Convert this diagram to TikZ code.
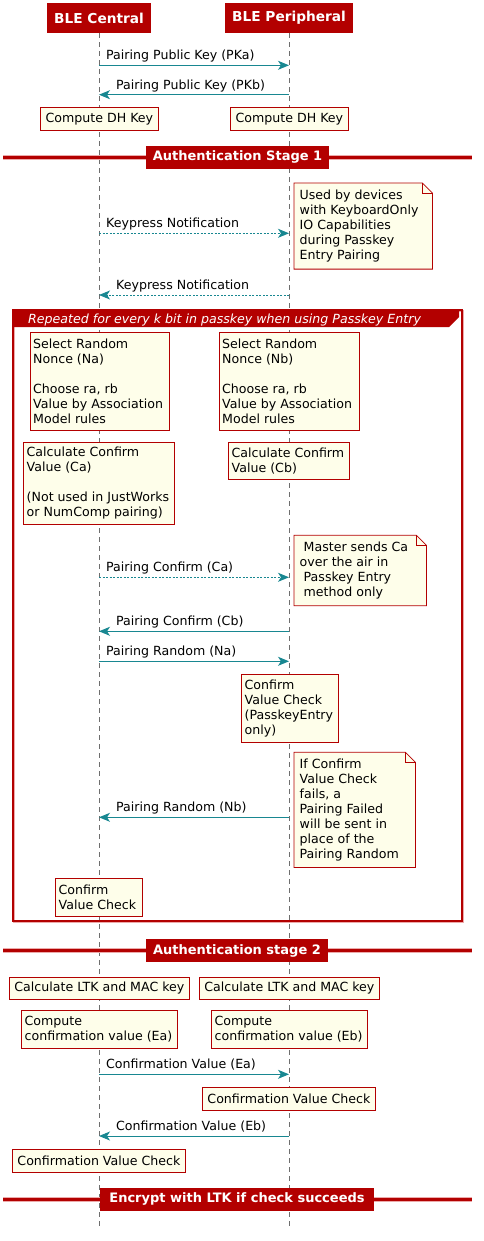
\documentclass[tikz,border=0pt]{standalone}
\usepackage{fontspec}
\setmainfont{DejaVu Sans}
\usetikzlibrary{arrows.meta}
\definecolor{pred}{RGB}{179,0,0}
\definecolor{ppink}{RGB}{236,170,170}
\definecolor{pivory}{RGB}{254,254,234}
\definecolor{pteal}{RGB}{24,135,145}
\definecolor{pgrayl}{RGB}{110,110,110}
\newcommand\txtsz{\fontsize{12.6}{15}\selectfont}
\begin{document}
\begin{tikzpicture}[x=1pt,y=-1pt,
  part/.style={fill=pred,text=white,font=\bfseries\fontsize{13.7}{16}\selectfont,inner sep=0pt,minimum height=30pt},
  lifeline/.style={draw=pgrayl,line width=0.6pt,dash pattern=on 5pt off 4pt},
  arr/.style={draw=pteal,line width=1pt,-{Stealth[length=11pt,width=9pt,inset=3pt]}},
  darr/.style={arr,dash pattern=on 2pt off 1.5pt},
  lbl/.style={font=\txtsz,anchor=base west,inner sep=0pt},
  boxr/.style={draw=pred,fill=pivory,line width=0.8pt,inner sep=0pt,anchor=north west},
  cbox/.style={boxr,font=\txtsz},
  fbox/.style={inner sep=0pt,anchor=north west},
  fold/.style={draw=pred,fill=pivory,line width=0.8pt},
  btxt/.style={font=\txtsz,align=left,inner sep=0pt,anchor=west},
  divbox/.style={fill=pred,text=white,font=\bfseries\fontsize{13}{15}\selectfont,inner sep=0pt,minimum height=23pt},
  divline/.style={line width=4.5pt,draw=ppink},
  divline2/.style={line width=2.6pt,draw=pred},
]
\useasboundingbox (0,0) rectangle (483,1241);

% participants
\node[part,minimum width=104pt] (pc) at (99,18) {BLE Central};
\node[part,minimum width=128pt] (pp) at (289,18) {BLE Peripheral};
\coordinate (ce) at (99,1228);
\coordinate (pe) at (289,1228);
\draw[lifeline] (pc.south) -- (ce);
\draw[lifeline] (pp.south) -- (pe);

% messages 1,2
\coordinate (a1) at (99,65.3); \coordinate (b1) at (289,65.3);
\draw[arr] (a1) -- (b1);
\node[lbl] (l1) at (106,59.8) {Pairing Public Key (PKa)};
\coordinate (a2) at (99,94.7); \coordinate (b2) at (289,94.7);
\draw[arr] (b2) -- (a2);
\node[lbl] (l2) at (116,89.2) {Pairing Public Key (PKb)};

\node[cbox,minimum width=118pt,minimum height=23pt] (dhL) at (40,107) {Compute DH Key};
\node[cbox,minimum width=118pt,minimum height=23pt] (dhR) at (230,107) {Compute DH Key};

% divider 1
\coordinate (d1a) at (3,157.3); \coordinate (d1b) at (472,157.3);
\draw[divline] (d1a) -- (d1b);
\draw[divline2] (d1a) -- (d1b);
\node[divbox,minimum width=183pt] (d1) at (237.5,157.3) {Authentication Stage 1};

% note keyboard
\node[fbox,minimum width=138pt,minimum height=85.7pt] (nkb) at (294,183) {};
\draw[fold] (nkb.north west) -- ([xshift=-10pt]nkb.north east) -- ([yshift=-10pt]nkb.north east) -- (nkb.south east) -- (nkb.south west) -- cycle;
\draw[draw=pred,line width=0.8pt] ([xshift=-10pt]nkb.north east) -- ([xshift=-10pt,yshift=-10pt]nkb.north east) -- ([yshift=-10pt]nkb.north east);
\node[btxt] (nkbt) at ([xshift=5.5pt]nkb.west) {Used by devices\\with KeyboardOnly\\IO Capabilities\\during Passkey\\Entry Pairing};

\coordinate (a3) at (99,233.3); \coordinate (b3) at (289,233.3);
\draw[darr] (a3) -- (b3);
\node[lbl] (l3) at (106,227.8) {Keypress Notification};
\coordinate (a4) at (99,295); \coordinate (b4) at (289,295);
\draw[darr] (b4) -- (a4);
\node[lbl] (l4) at (116,289.5) {Keypress Notification};

% loop frame
\coordinate (fr1) at (13,310); \coordinate (fr2) at (462,921);
\draw[draw=ppink,line width=2.4pt] ([xshift=0.8pt,yshift=-0.8pt]fr1) rectangle ([xshift=0.8pt,yshift=-0.8pt]fr2);
\draw[draw=pred,line width=1.2pt] (fr1) rectangle (fr2);
\fill[pred] (13,310) -- (459,310) -- (459,317) -- (449,327) -- (13,327) -- cycle;
\node[font=\itshape\txtsz,text=white,anchor=base west,inner sep=0pt] (lh) at (28,323.5) {Repeated for every k bit in passkey when using Passkey Entry};

\node[boxr,minimum width=139pt,minimum height=97.7pt] (selA) at (30,332.3) {};
\node[btxt] (selAt) at ([xshift=3pt]selA.west) {Select Random\\Nonce (Na)\\[15pt]Choose ra, rb\\Value by Association\\Model rules};
\node[boxr,minimum width=140pt,minimum height=97.7pt] (selB) at (219,332.3) {};
\node[btxt] (selBt) at ([xshift=3pt]selB.west) {Select Random\\Nonce (Nb)\\[15pt]Choose ra, rb\\Value by Association\\Model rules};
\node[boxr,minimum width=151pt,minimum height=82.3pt] (calcA) at (23,441.7) {};
\node[btxt] (calcAt) at ([xshift=3.5pt]calcA.west) {Calculate Confirm\\Value (Ca)\\[15pt](Not used in JustWorks\\or NumComp pairing)};
\node[boxr,minimum width=121pt,minimum height=37.6pt] (calcB) at (228,441.7) {};
\node[btxt] (calcBt) at ([xshift=3.5pt]calcB.west) {Calculate Confirm\\Value (Cb)};

% note master
\node[fbox,minimum width=132pt,minimum height=70pt] (nms) at (294,535.3) {};
\draw[fold] (nms.north west) -- ([xshift=-10pt]nms.north east) -- ([yshift=-10pt]nms.north east) -- (nms.south east) -- (nms.south west) -- cycle;
\draw[draw=pred,line width=0.8pt] ([xshift=-10pt]nms.north east) -- ([xshift=-10pt,yshift=-10pt]nms.north east) -- ([yshift=-10pt]nms.north east);
\node[btxt] (nmst) at ([xshift=5.5pt]nms.west) {\hspace*{4pt}Master sends Ca\\over the air in\\\hspace*{4pt}Passkey Entry\\\hspace*{4pt}method only};

\coordinate (a5) at (99,577.3); \coordinate (b5) at (289,577.3);
\draw[darr] (a5) -- (b5);
\node[lbl] (l5) at (106,571.8) {Pairing Confirm (Ca)};
\coordinate (a6) at (99,631.3); \coordinate (b6) at (289,631.3);
\draw[arr] (b6) -- (a6);
\node[lbl] (l6) at (116,625.8) {Pairing Confirm (Cb)};
\coordinate (a7) at (99,661.3); \coordinate (b7) at (289,661.3);
\draw[arr] (a7) -- (b7);
\node[lbl] (l7) at (106,655.8) {Pairing Random (Na)};

\node[boxr,minimum width=97pt,minimum height=68pt] (cvcB) at (241,674.3) {};
\node[btxt] (cvcBt) at ([xshift=3.5pt]cvcB.west) {Confirm\\Value Check\\(PasskeyEntry\\only)};

% note if
\node[fbox,minimum width=121pt,minimum height=114.7pt] (nif) at (294,752.3) {};
\draw[fold] (nif.north west) -- ([xshift=-10pt]nif.north east) -- ([yshift=-10pt]nif.north east) -- (nif.south east) -- (nif.south west) -- cycle;
\draw[draw=pred,line width=0.8pt] ([xshift=-10pt]nif.north east) -- ([xshift=-10pt,yshift=-10pt]nif.north east) -- ([yshift=-10pt]nif.north east);
\node[btxt] (nift) at ([xshift=5.5pt]nif.west) {If Confirm\\Value Check\\fails, a\\Pairing Failed\\will be sent in\\place of the\\Pairing Random};

\coordinate (a8) at (99,817.3); \coordinate (b8) at (289,817.3);
\draw[arr] (b8) -- (a8);
\node[lbl] (l8) at (116,811.8) {Pairing Random (Nb)};

\node[boxr,minimum width=87pt,minimum height=38pt] (cvcA) at (55,878.3) {};
\node[btxt] (cvcAt) at ([xshift=3.5pt]cvcA.west) {Confirm\\Value Check};

% divider 2
\coordinate (d2a) at (3,950.7); \coordinate (d2b) at (472,950.7);
\draw[divline] (d2a) -- (d2b);
\draw[divline2] (d2a) -- (d2b);
\node[divbox,minimum width=182pt] (d2) at (237,950.7) {Authentication stage 2};

\node[cbox,minimum width=180pt,minimum height=22.6pt] (ltkA) at (9,976.7) {Calculate LTK and MAC key};
\node[cbox,minimum width=180pt,minimum height=22.6pt] (ltkB) at (199,976.7) {Calculate LTK and MAC key};
\node[boxr,minimum width=156pt,minimum height=38.3pt] (eA) at (21,1010) {};
\node[btxt] (eAt) at ([xshift=3.5pt]eA.west) {Compute\\confirmation value (Ea)};
\node[boxr,minimum width=156pt,minimum height=38.3pt] (eB) at (211,1010) {};
\node[btxt] (eBt) at ([xshift=3.5pt]eB.west) {Compute\\confirmation value (Eb)};

\coordinate (a9) at (99,1074.3); \coordinate (b9) at (289,1074.3);
\draw[arr] (a9) -- (b9);
\node[lbl] (l9) at (106,1068.8) {Confirmation Value (Ea)};

\node[cbox,minimum width=173pt,minimum height=23pt] (cvR) at (202,1087.3) {Confirmation Value Check};

\coordinate (a10) at (99,1136); \coordinate (b10) at (289,1136);
\draw[arr] (b10) -- (a10);
\node[lbl] (l10) at (116,1130.5) {Confirmation Value (Eb)};

\node[cbox,minimum width=173pt,minimum height=22.7pt] (cvL) at (12,1149.3) {Confirmation Value Check};

% divider 3
\coordinate (d3a) at (3,1199.3); \coordinate (d3b) at (472,1199.3);
\draw[divline] (d3a) -- (d3b);
\draw[divline2] (d3a) -- (d3b);
\node[divbox,minimum width=274pt] (d3) at (237,1199.3) {Encrypt with LTK if check succeeds};
\end{tikzpicture}
\end{document}
